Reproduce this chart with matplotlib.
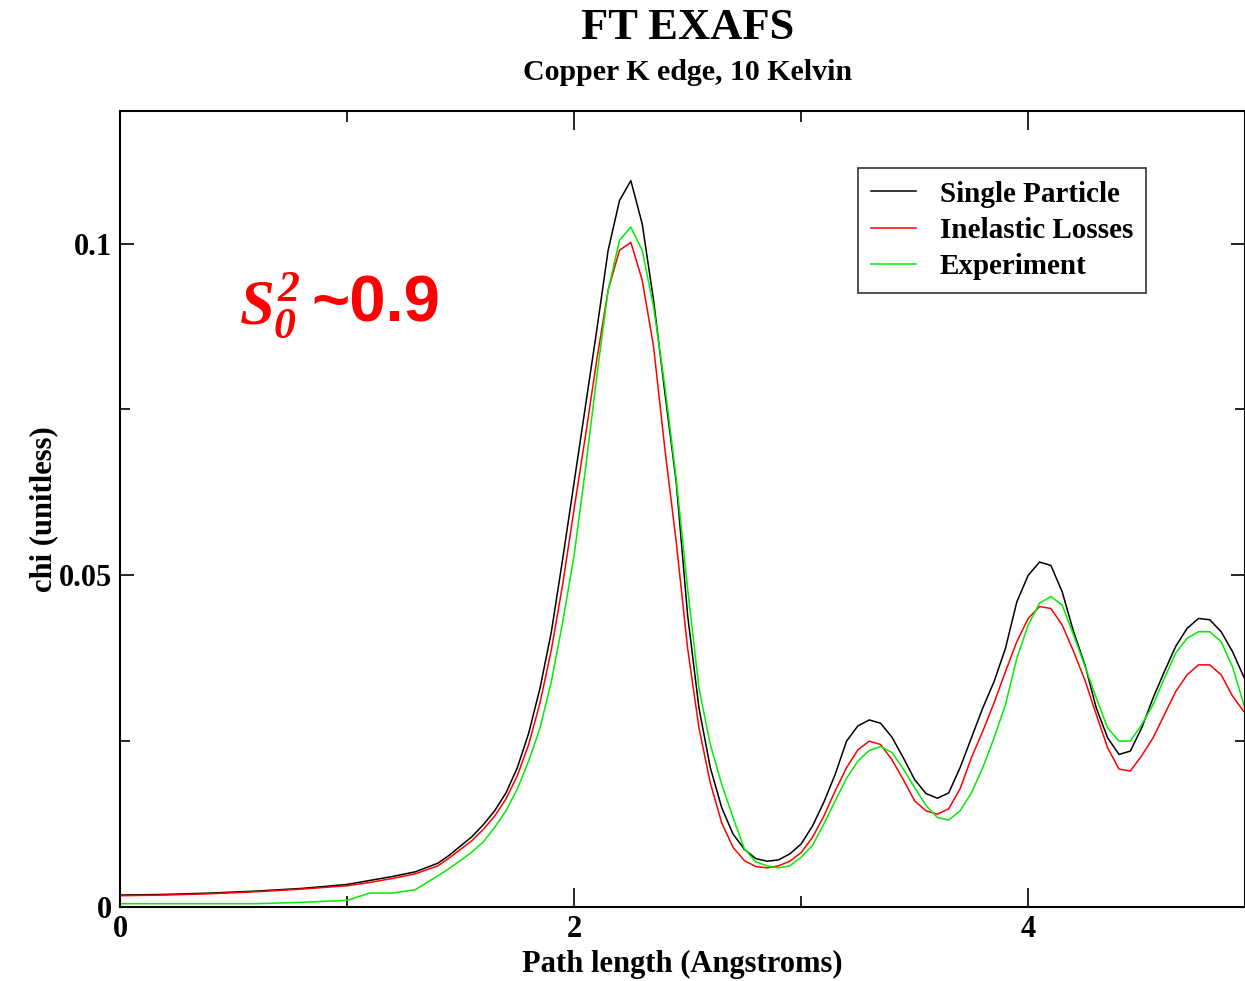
import numpy as np
import matplotlib
matplotlib.use("Agg")
import matplotlib.pyplot as plt
from matplotlib.ticker import MultipleLocator

# FT of EXAFS, copper K edge at 10 K: theory (with/without losses) vs experiment
path_length = [
    0, 0.2, 0.4, 0.6, 0.8, 1.0, 1.1, 1.2, 1.3, 1.4,
    1.45, 1.5, 1.55, 1.6, 1.65, 1.7, 1.75, 1.8, 1.85, 1.9,
    1.95, 2.0, 2.05, 2.1, 2.15, 2.2, 2.25, 2.3, 2.35, 2.4,
    2.45, 2.5, 2.55, 2.6, 2.65, 2.7, 2.75, 2.8, 2.85, 2.9,
    2.95, 3.0, 3.05, 3.1, 3.15, 3.2, 3.25, 3.3, 3.35, 3.4,
    3.45, 3.5, 3.55, 3.6, 3.65, 3.7, 3.75, 3.8, 3.85, 3.9,
    3.95, 4.0, 4.05, 4.1, 4.15, 4.2, 4.25, 4.3, 4.35, 4.4,
    4.45, 4.5, 4.55, 4.6, 4.65, 4.7, 4.75, 4.8, 4.85, 4.9,
    4.96,
]

single_particle = [
    0.0018, 0.0019, 0.0021, 0.0024, 0.0028, 0.0034, 0.0040, 0.0046, 0.0053, 0.0066,
    0.0078, 0.0092, 0.0106, 0.0124, 0.0145, 0.0172, 0.0210, 0.0262, 0.0330, 0.0415,
    0.0525, 0.0640, 0.0755, 0.0870, 0.0990, 0.1065, 0.1095, 0.1030, 0.0915, 0.0775,
    0.0640, 0.0440, 0.0300, 0.0210, 0.0150, 0.0110, 0.0087, 0.0073, 0.0069, 0.0071,
    0.0080, 0.0095, 0.0122, 0.0158, 0.0200, 0.0250, 0.0273, 0.0282, 0.0277, 0.0256,
    0.0225, 0.0192, 0.0171, 0.0164, 0.0172, 0.0210, 0.0255, 0.0300, 0.0340, 0.0390,
    0.0460, 0.0500, 0.0520, 0.0515, 0.0475, 0.0415, 0.0365, 0.0300, 0.0255, 0.0230,
    0.0235, 0.0270, 0.0315, 0.0355, 0.0393, 0.0420, 0.0435, 0.0433, 0.0415, 0.0385,
    0.0339,
]

inelastic_losses = [
    0.0017, 0.0018, 0.0020, 0.0023, 0.0027, 0.0032, 0.0037, 0.0043, 0.0050, 0.0062,
    0.0074, 0.0087, 0.0100, 0.0117, 0.0137, 0.0163, 0.0198, 0.0245, 0.0308, 0.0388,
    0.0487, 0.0600, 0.0710, 0.0825, 0.0930, 0.0990, 0.1002, 0.0945, 0.0845, 0.0690,
    0.0550, 0.0390, 0.0270, 0.0187, 0.0127, 0.0090, 0.0070, 0.0061, 0.0059, 0.0062,
    0.0069, 0.0082, 0.0105, 0.0137, 0.0175, 0.0210, 0.0237, 0.0250, 0.0245, 0.0222,
    0.0192, 0.0160, 0.0145, 0.0140, 0.0148, 0.0178, 0.0225, 0.0265, 0.0308, 0.0355,
    0.0400, 0.0435, 0.0453, 0.0450, 0.0425, 0.0385, 0.0342, 0.0290, 0.0240, 0.0208,
    0.0205, 0.0228, 0.0255, 0.0290, 0.0325, 0.0350, 0.0365, 0.0365, 0.0350, 0.0318,
    0.0290,
]

experiment = [
    0.0005, 0.0005, 0.0005, 0.0005, 0.0007, 0.0010, 0.0021, 0.0021, 0.0026, 0.0047,
    0.0058, 0.0070, 0.0083, 0.0098, 0.0120, 0.0145, 0.0178, 0.0220, 0.0270, 0.0340,
    0.0430, 0.0530, 0.0660, 0.0800, 0.0930, 0.1005, 0.1025, 0.0990, 0.0905, 0.0785,
    0.0645, 0.0480, 0.0330, 0.0245, 0.0185, 0.0135, 0.0088, 0.0068, 0.0062, 0.0059,
    0.0062, 0.0075, 0.0093, 0.0125, 0.0160, 0.0194, 0.0220, 0.0236, 0.0242, 0.0233,
    0.0208, 0.0180, 0.0153, 0.0135, 0.0131, 0.0145, 0.0172, 0.0210, 0.0255, 0.0305,
    0.0375, 0.0425, 0.0458, 0.0468, 0.0455, 0.0410, 0.0363, 0.0315, 0.0270, 0.0250,
    0.0250, 0.0275, 0.0305, 0.0345, 0.0383, 0.0405, 0.0415, 0.0415, 0.0400, 0.0362,
    0.0294,
]

series_names = ["Single Particle", "Inelastic Losses", "Experiment"]
series_colors = ["black", "#ff0000", "#00ee00"]

plt.rcParams["font.family"] = ["Liberation Serif", "DejaVu Serif"]
plt.rcParams["font.weight"] = "bold"
plt.rcParams["axes.labelweight"] = "bold"
plt.rcParams["mathtext.fontset"] = "custom"
plt.rcParams["mathtext.it"] = "Liberation Serif:bold:italic"
plt.rcParams["mathtext.rm"] = "Liberation Serif:bold:italic"

fig = plt.figure(figsize=(12.45, 9.81), dpi=100)
ax = fig.add_axes([120 / 1245, 1 - 907 / 981, 1125 / 1245, 796 / 981])

for ys, name, col in zip([single_particle, inelastic_losses, experiment],
                         series_names, series_colors):
    ax.plot(path_length, ys, color=col, lw=1.1, label=name)

ax.set_xlim(0, 4.955)
ax.set_ylim(0, 0.12)
ax.xaxis.set_minor_locator(MultipleLocator(1))
ax.yaxis.set_minor_locator(MultipleLocator(0.025))
ax.tick_params(which="both", direction="in", top=True, right=True, width=1.2)
ax.tick_params(axis="x", which="major", length=14, pad=6)
ax.tick_params(axis="x", which="minor", length=8)
ax.tick_params(axis="y", which="major", length=10, pad=6)
ax.tick_params(axis="y", which="minor", length=7)
for s in ax.spines.values():
    s.set_linewidth(1.5)

ax.set_xticks([0, 2, 4])
ax.set_xticklabels(["0", "2", "4"], fontsize=22)
ax.set_yticks([0, 0.05, 0.1])
ax.set_yticklabels(["0", "0.05", "0.1"], fontsize=22)

ax.set_xlabel("Path length (Angstroms)", fontsize=22, labelpad=4)
ax.set_ylabel("chi (unitless)", fontsize=22, labelpad=0)

fig.text(688 / 1245, 1 - 28 / 981, "FT EXAFS", ha="center", va="center", fontsize=32)
fig.text(688 / 1245, 1 - 72 / 981, "Copper K edge, 10 Kelvin", ha="center", va="center", fontsize=21.5)

leg = ax.legend(loc="upper left", bbox_to_anchor=(0.656, 0.929), borderaxespad=0,
                prop={"size": 21, "weight": "bold"}, frameon=True, fancybox=False,
                handlelength=1.55, handletextpad=0.8, labelspacing=0.32, borderpad=0.45)
leg.get_frame().set_edgecolor("black")
leg.get_frame().set_linewidth(1.2)

ax.text(0.106, 0.733, r"$S_0^2$", transform=ax.transAxes, color="red",
        fontsize=45, ha="left", va="baseline")
ax.text(0.170, 0.736, "~0.9", transform=ax.transAxes, color="red",
        fontsize=47, fontweight="bold", family="Liberation Sans", ha="left", va="baseline")

fig.savefig("out.png", dpi=100)
